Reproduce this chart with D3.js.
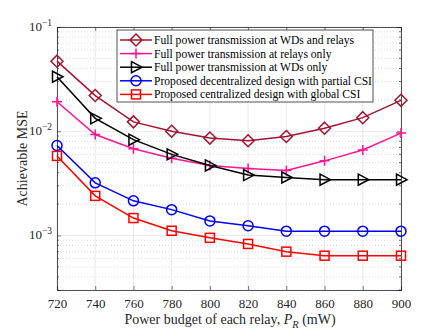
<!DOCTYPE html>
<html>
<head>
<meta charset="utf-8">
<script src="https://cdn.jsdelivr.net/npm/d3@7"></script>
<style>
  body { margin: 0; background: #fff; }
  text { font-family: "Liberation Serif", "Times New Roman", serif; }
</style>
</head>
<body>
<div id="chart"></div>
<script>
// chart data
var powerBudget = [720, 740, 760, 780, 800, 820, 840, 860, 880, 900];
var fullBoth   = [0.047, 0.022, 0.0123, 0.0100, 0.0086, 0.0081, 0.0089, 0.0107, 0.0135, 0.0198];
var fullRelays = [0.0192, 0.0093, 0.0068, 0.0055, 0.0047, 0.0044, 0.0042, 0.0052, 0.0066, 0.0096];
var fullWDs    = [0.0333, 0.0133, 0.0083, 0.0060, 0.0047, 0.0038, 0.0036, 0.00343, 0.00343, 0.00343];
var decentral  = [0.0073, 0.0032, 0.00215, 0.00177, 0.00138, 0.00124, 0.0011, 0.0011, 0.0011, 0.0011];
var central    = [0.0058, 0.0024, 0.00147, 0.00111, 0.00095, 0.00083, 0.0007, 0.00064, 0.00064, 0.00064];
var seriesNames = [
  "Full power transmission at WDs and relays",
  "Full power transmission at relays only",
  "Full power transmission at WDs only",
  "Proposed decentralized design with partial CSI",
  "Proposed centralized design with global CSI"
];
var seriesColors = ["#A2142F", "#FF1493", "#000000", "#0000FF", "#FF0000"];
var seriesMarkers = ["diamond", "plus", "triangle", "circle", "square"];
var yTickValues = [1e-3, 1e-2, 1e-1];
var yTickExp = ["-3", "-2", "-1"];

var svgWidth = 443;
var svgHeight = 332;
var margin = { top: 27, right: 42, bottom: 42, left: 57 };
var chartWidth = svgWidth - margin.left - margin.right;
var chartHeight = svgHeight - margin.top - margin.bottom;

var svg = d3.select("#chart").append("svg")
  .attr("width", svgWidth)
  .attr("height", svgHeight);

var chartGroup = svg.append("g")
  .attr("transform", `translate(${margin.left}, ${margin.top})`);

var xScale = d3.scaleLinear().domain([720, 900]).range([0, chartWidth]);
var yScale = d3.scaleLog().domain([3e-4, 1e-1]).range([chartHeight, 0]);

// minor grid (dotted) for log axis
var minorVals = [];
[1e-4, 1e-3, 1e-2].forEach(function(dec) {
  for (var k = 2; k <= 9; k++) {
    var v = dec * k;
    if (v >= 3e-4 && v < 1e-1) minorVals.push(v);
  }
});
chartGroup.selectAll(".minorGrid").data(minorVals).enter().append("line")
  .attr("x1", 0).attr("x2", chartWidth)
  .attr("y1", d => yScale(d)).attr("y2", d => yScale(d))
  .attr("stroke", "#d4d4d4").attr("stroke-width", 0.8)
  .attr("stroke-dasharray", "1,2");

// major grid
chartGroup.selectAll(".vGrid").data(powerBudget).enter().append("line")
  .attr("x1", d => xScale(d)).attr("x2", d => xScale(d))
  .attr("y1", 0).attr("y2", chartHeight)
  .attr("stroke", "#e3e3e3").attr("stroke-width", 0.8);
chartGroup.selectAll(".hGrid").data(yTickValues).enter().append("line")
  .attr("x1", 0).attr("x2", chartWidth)
  .attr("y1", d => yScale(d)).attr("y2", d => yScale(d))
  .attr("stroke", "#e3e3e3").attr("stroke-width", 0.8);

// axes with inward ticks
var bottomAxis = d3.axisBottom(xScale).tickValues(powerBudget).tickSize(-4).tickPadding(9).tickFormat(d3.format("d"));
var xAxisG = chartGroup.append("g")
  .attr("transform", `translate(0, ${chartHeight})`)
  .call(bottomAxis);
xAxisG.selectAll("text").attr("font-size", 13).attr("fill", "#262626")
  .style("font-family", "Liberation Serif");

var topAxis = d3.axisTop(xScale).tickValues(powerBudget).tickSize(-4).tickFormat("");
chartGroup.append("g").call(topAxis);

var leftAxis = d3.axisLeft(yScale).tickValues(yTickValues).tickSize(-4).tickFormat("");
chartGroup.append("g").call(leftAxis);
var rightAxis = d3.axisRight(yScale).tickValues(yTickValues).tickSize(-4).tickFormat("");
chartGroup.append("g").attr("transform", `translate(${chartWidth}, 0)`).call(rightAxis);

// minor tick marks
chartGroup.selectAll(".minorTickL").data(minorVals).enter().append("line")
  .attr("x1", 0).attr("x2", 2)
  .attr("y1", d => yScale(d)).attr("y2", d => yScale(d))
  .attr("stroke", "#262626").attr("stroke-width", 0.6);
chartGroup.selectAll(".minorTickR").data(minorVals).enter().append("line")
  .attr("x1", chartWidth - 2).attr("x2", chartWidth)
  .attr("y1", d => yScale(d)).attr("y2", d => yScale(d))
  .attr("stroke", "#262626").attr("stroke-width", 0.6);

chartGroup.selectAll(".domain").attr("stroke", "#262626").attr("stroke-width", 0.8);
chartGroup.selectAll(".tick line").attr("stroke", "#262626").attr("stroke-width", 0.6);

// y tick labels as 10^x
var yLabels = chartGroup.selectAll(".yLab").data(yTickValues).enter().append("text")
  .attr("x", -5).attr("y", d => yScale(d) + 4)
  .attr("text-anchor", "end")
  .attr("font-size", 13).attr("fill", "#262626");
yLabels.append("tspan").text("10");
yLabels.append("tspan").attr("dy", -5).attr("font-size", 9.5)
  .text((d, i) => yTickExp[i].replace("-", "\u2212"));

// axis titles
chartGroup.append("text")
  .attr("transform", "rotate(-90)")
  .attr("x", -chartHeight / 2)
  .attr("y", -margin.left + 27)
  .attr("text-anchor", "middle")
  .attr("font-size", 14).attr("fill", "#262626")
  .text("Achievable MSE");

var xTitle = chartGroup.append("text")
  .attr("x", chartWidth / 2 + 1)
  .attr("y", chartHeight + 34)
  .attr("text-anchor", "middle")
  .attr("font-size", 14).attr("fill", "#262626");
xTitle.append("tspan").text("Power budget of each relay, ");
xTitle.append("tspan").attr("font-style", "italic").text("P");
xTitle.append("tspan").attr("font-style", "italic").attr("font-size", 10.5).attr("dy", 4).text("R");
xTitle.append("tspan").attr("dy", -4).text(" (mW)");

// marker drawing
function drawMarker(g, type, color) {
  var p;
  if (type === "diamond") {
    p = g.append("path").attr("d", "M0,-6L6,0L0,6L-6,0Z");
  } else if (type === "plus") {
    p = g.append("path").attr("d", "M-5,0H5M0,-5V5");
  } else if (type === "triangle") {
    p = g.append("path").attr("d", "M-4.5,-5.5L6,0L-4.5,5.5Z");
  } else if (type === "circle") {
    p = g.append("circle").attr("r", 5);
  } else {
    p = g.append("rect").attr("x", -4.5).attr("y", -4.5).attr("width", 9).attr("height", 9);
  }
  p.attr("fill", "none").attr("stroke", color).attr("stroke-width", 1.5);
}

var allSeries = [fullBoth, fullRelays, fullWDs, decentral, central];
var line = d3.line()
  .x((d, i) => xScale(powerBudget[i]))
  .y(d => yScale(d));

allSeries.forEach(function(vals, s) {
  chartGroup.append("path")
    .datum(vals)
    .attr("d", line)
    .attr("fill", "none")
    .attr("stroke", seriesColors[s])
    .attr("stroke-width", 1.5);
  vals.forEach(function(v, i) {
    var g = chartGroup.append("g")
      .attr("transform", `translate(${xScale(powerBudget[i])}, ${yScale(v)})`);
    drawMarker(g, seriesMarkers[s], seriesColors[s]);
  });
});

// legend
var legend = svg.append("g").attr("transform", "translate(117, 30)");
legend.append("rect")
  .attr("width", 256).attr("height", 72)
  .attr("fill", "#fff").attr("stroke", "#262626").attr("stroke-width", 0.8);

var legendItems = legend.selectAll(".lineLegend").data(seriesNames).enter().append("g")
  .attr("class", "lineLegend")
  .attr("transform", (d, i) => `translate(0, ${10 + i * 13.6})`);
legendItems.append("line")
  .attr("x1", 3).attr("x2", 35).attr("y1", 0).attr("y2", 0)
  .attr("stroke", (d, i) => seriesColors[i]).attr("stroke-width", 1.5);
legendItems.each(function(d, i) {
  var g = d3.select(this).append("g").attr("transform", "translate(19, 0)");
  drawMarker(g, seriesMarkers[i], seriesColors[i]);
});
legendItems.append("text")
  .attr("x", 37).attr("y", 4)
  .attr("font-size", 11.6).attr("fill", "#000")
  .text(d => d);
</script>
</body>
</html>
